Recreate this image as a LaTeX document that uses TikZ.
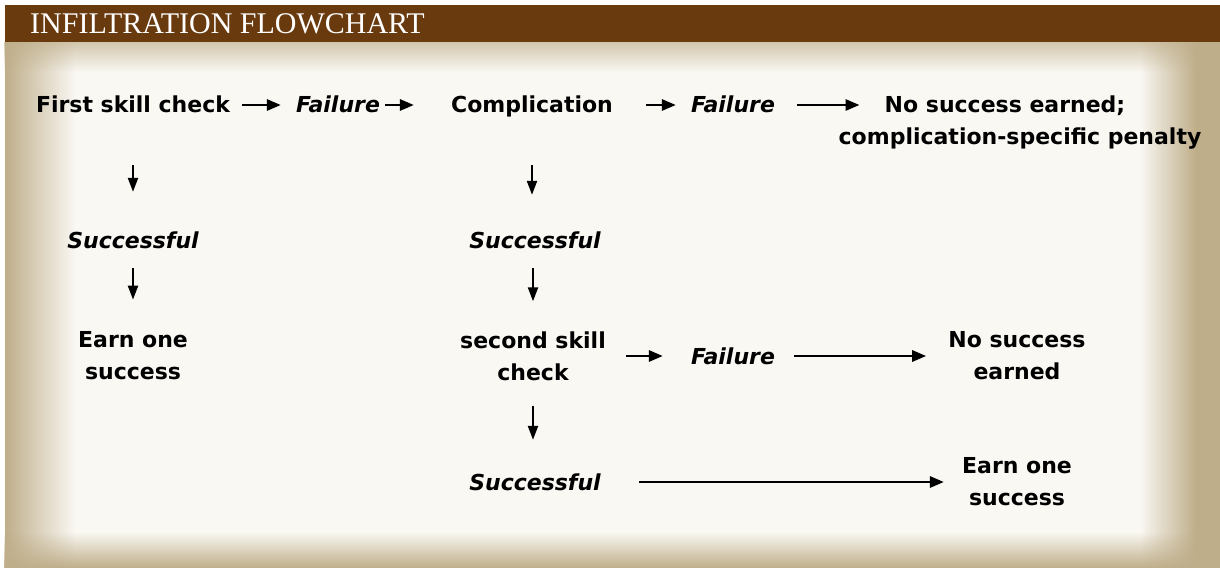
\documentclass[tikz,border=0pt]{standalone}
\usepackage{fontspec}
\newfontfamily\flowfont{DejaVu Sans}
\newfontfamily\titlefont{Liberation Serif}
\usepackage{tikz}
\usetikzlibrary{arrows.meta, positioning, fadings}
\definecolor{barbrown}{HTML}{6A3A0F}
\definecolor{parchment}{HTML}{FAF8F3}
\definecolor{parchedge}{HTML}{BFAE8A}

\begin{document}
\begin{tikzpicture}[x=1pt, y=-1pt,
    step text/.style={font=\flowfont\bfseries\fontsize{22}{32}\selectfont,
      inner sep=0pt, align=center},
    outcome/.style={step text, font=\flowfont\bfseries\itshape\fontsize{22}{32}\selectfont},
    one line/.style={text height=16pt, text depth=0pt},
    flow/.style={-{Triangle[length=14pt,width=11pt]}, line width=2.8pt},
    drop/.style={-{Triangle[length=14pt,width=10pt]}, line width=2.2pt}]
  \useasboundingbox (0,0) rectangle (1220,572);
  %% *** Parchment ***
  \fill[white] (0,0) rectangle (1220,572);
  \fill[parchment] (5,42) rectangle (1220,568);
  \fill[parchedge!70, path fading=south] (5,42) rectangle (1220,72);
  \fill[parchedge, path fading=east] (5,42) rectangle (75,568);
  \fill[parchedge, path fading=west] (1140,42) rectangle (1196,568);
  \fill[parchedge] (1196,42) rectangle (1220,568);
  \fill[parchedge, path fading=north] (5,532) rectangle (1220,568);
  %% *** Title ***
  \fill[barbrown] (5,5) rectangle (1220,42);
  \node[anchor=base west, inner sep=0pt, text=white,
    font=\titlefont\fontsize{30}{30}\selectfont] (title) at (30,34) {INFILTRATION FLOWCHART};
  %% *** First check ***
  \node[step text, one line] (fsc) at (133,105) {First skill check};
  \node[outcome, one line] (fail1) at (338,105) {Failure};
  \node[outcome, one line] (suc1) at (133,240) {Successful};
  \node[step text] (earn1) at (133,356) {Earn one\\success};
  %% *** Complication ***
  \node[step text, one line] (comp) at (532,105) {Complication};
  \node[outcome, one line] (fail2) at (733,105) {Failure};
  \node[step text, one line] (nse1) at (1005,105) {No success earned;};
  \node[step text, one line] (nse2) at (1020,137) {complication-specific penalty};
  \node[outcome, one line] (suc2) at (535,240) {Successful};
  %% *** Second check ***
  \node[step text] (ssc) at (533,356) {second skill\\check};
  \node[outcome, one line] (fail3) at (733,356) {Failure};
  \node[step text] (nse3) at (1017,356) {No success\\earned};
  \node[outcome, one line] (suc3) at (535,482) {Successful};
  \node[step text] (earn2) at (1017,482) {Earn one\\success};
  %% *** Arrows ***
  \draw[flow, shorten <=12pt, shorten >=15pt] (fsc) -- (fail1);
  \draw[flow, shorten <=5pt, shorten >=37pt] (fail1) -- (comp);
  \draw[flow, shorten <=33pt, shorten >=15pt] (comp) -- (fail2);
  \draw[flow, shorten <=22pt, shorten >=25pt] (fail2) -- (nse1);
  \draw[flow, shorten <=20pt, shorten >=28pt] (ssc) -- (fail3);
  \draw[flow, shorten <=19pt, shorten >=22pt] (fail3) -- (nse3);
  \draw[flow, shorten <=38pt, shorten >=18pt] (suc3) -- (earn2);
  \draw[drop, shorten <=52pt, shorten >=40pt] (fsc) -- (suc1);
  \draw[drop, shorten <=20pt, shorten >=32pt] (suc1) -- (earn1);
  \draw[drop, shorten <=52pt, shorten >=37pt] (comp.south) -- (comp.south |- suc2.north);
  \draw[drop, shorten <=20pt, shorten >=30pt] (suc2.south -| ssc) -- (ssc);
  \draw[drop, shorten <=25pt, shorten >=34pt] (ssc) -- (ssc |- suc3.north);
\end{tikzpicture}
\end{document}
